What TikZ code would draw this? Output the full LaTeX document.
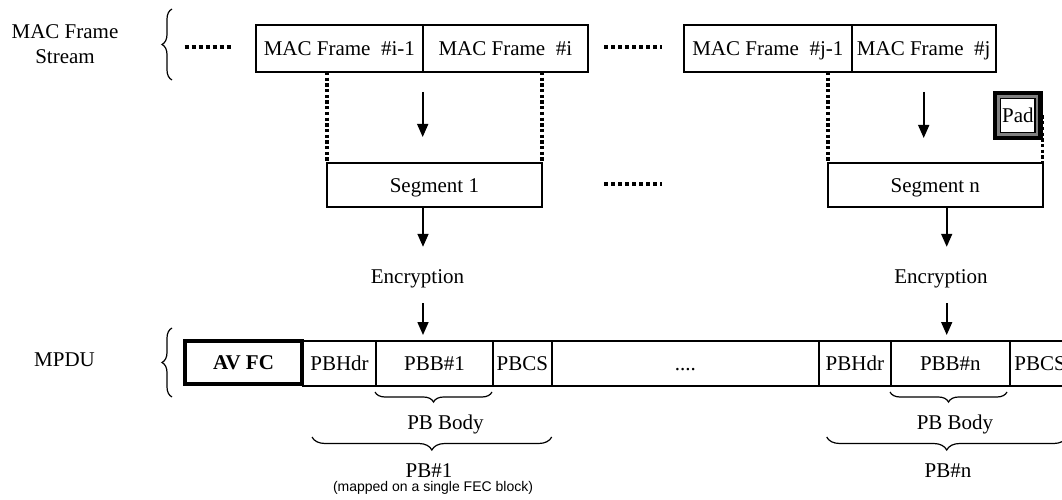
\documentclass[tikz,border=0pt]{standalone}
\usepackage{fontspec}
\setmainfont{Liberation Serif}
\newfontfamily\arialfont{Liberation Sans}
\usetikzlibrary{arrows.meta,decorations.pathreplacing,calc}
\tikzset{
  every node/.style={font=\fontsize{21}{25}\selectfont},
  boxbase/.style={draw, line width=2pt, inner sep=0pt, outer sep=0pt, text height=14pt, text depth=0pt},
  macbox/.style={boxbase, minimum height=47pt},
  segbox/.style={boxbase, minimum height=44pt},
  cell/.style={boxbase, minimum height=45.5pt},
  arr/.style={line width=1.6pt, -{Triangle[width=11pt,length=13pt]}},
  dotsh/.style={line width=3.4pt, dash pattern=on 4pt off 3pt},
  dotsv/.style={line width=3.4pt, dash pattern=on 3.3pt off 2.4pt},
  bracedeco/.style={decorate, line width=1.2pt, decoration={brace, amplitude=#1}},
  enctext/.style={inner sep=0pt, anchor=base, text height=36pt, text depth=20pt},
}
\begin{document}
\begin{tikzpicture}[x=1pt, y=-1pt]
\useasboundingbox (0,0) rectangle (1062,500);

% labels
\node[align=center] (mfs) at (65,44.5) {MAC Frame\\Stream};
\node[anchor=base] (mpdu) at (64.5,366.7) {MPDU};
\coordinate (b1a) at (172,80); \coordinate (b1b) at (172,9);
\draw[bracedeco=10pt] (b1a) -- (b1b);
\coordinate (b2a) at (172,397); \coordinate (b2b) at (172,328);
\draw[bracedeco=10pt] (b2a) -- (b2b);

% MAC frames
\node[macbox, minimum width=166.7pt] (mac1) at (339.35,48.5) {MAC Frame~ \#i-1};
\node[macbox, minimum width=165.3pt] (mac2) at (505.35,48.5) {MAC Frame~ \#i};
\node[macbox, minimum width=167.7pt] (mac3) at (767.85,48.5) {MAC Frame~ \#j-1};
\node[macbox, minimum width=144pt] (mac4) at (923.7,48.5) {MAC Frame~ \#j};
\draw[dotsh] (184.5,47) -- (232.5,47);
\draw[dotsh] (604,47) -- (662,47);

% segments
\node[segbox, minimum width=214.8pt] (seg1) at (434.4,185) {Segment 1};
\node[segbox, minimum width=214.7pt] (segn) at (935.35,185) {Segment n};
\draw[dotsh] (604,184) -- (662,184);

% pad
\node[boxbase, line width=1.7pt, minimum width=34.8pt, minimum height=34.1pt] (pad) at (1017.85,115.5) {Pad};
\draw[gray, line width=2.3pt] ($(pad.north west)+(-2,-2)$) rectangle ($(pad.south east)+(2,2)$);
\draw[line width=4.3pt] ($(pad.north west)+(-5.3,-5.3)$) rectangle ($(pad.south east)+(5.3,5.3)$);

% dotted guides
\draw[dotsv] (seg1.north west |- mac1.south) -- (seg1.north west);
\draw[dotsv] (seg1.north east |- mac2.south) -- (seg1.north east);
\draw[dotsv] (segn.north west |- mac3.south) -- (segn.north west);
\draw[dotsv] (segn.north east |- pad.east) -- (segn.north east);

% arrows to segments
\draw[arr, shorten <=20pt, shorten >=26pt] (mac1.south east) -- (seg1.north -| mac1.south east);
\draw[arr, shorten <=20pt, shorten >=25pt] (mac4.south) -- (segn.north -| mac4.south);

% encryption
\node[enctext] (enc1) at (417.5,283) {Encryption};
\node[enctext] (encn) at (941,283) {Encryption};
\coordinate (cx1) at (423,0);
\coordinate (cx2) at (946.7,0);

% MPDU row
\node[cell, minimum width=73pt] (pbh1) at (339.5,363.25) {PBHdr};
\node[cell, minimum width=117pt] (pbb1) at (434.5,363.25) {PBB\#1};
\node[cell, minimum width=58.7pt] (pbcs1) at (522.35,363.25) {PBCS};
\node[cell, minimum width=267.3pt] (mid) at (685.35,363.25) {....};
\node[cell, minimum width=71.7pt] (pbhn) at (854.85,363.25) {PBHdr};
\node[cell, minimum width=119.3pt] (pbbn) at (950.35,363.25) {PBB\#n};
\node[cell, minimum width=60pt] (pbcsn) at (1040,363.25) {PBCS};
\node[boxbase, line width=4pt, minimum width=116.4pt, minimum height=43pt] (avfc) at (243.5,362.9) {\textbf{AV FC}};

\draw[arr] (seg1.south -| cx1) -- (enc1.north -| cx1);
\draw[arr, shorten >=5.5pt] (enc1.south -| cx1) -- (pbb1.north -| cx1);
\draw[arr] (segn.south -| cx2) -- (encn.north -| cx2);
\draw[arr, shorten >=5.5pt] (encn.south -| cx2) -- (pbbn.north -| cx2);

% braces below
\draw[bracedeco=10pt] ($(pbb1.south east)+(-1,6)$) -- ($(pbb1.south west)+(-1,6)$);
\draw[bracedeco=13pt] ($(pbcs1.south east)+(0,51)$) -- ($(pbh1.south west)+(9,51)$);
\draw[bracedeco=10pt] ($(pbbn.south east)+(-3,6)$) -- ($(pbbn.south west)+(-0.7,6)$);
\draw[bracedeco=13pt] ($(pbcsn.south east)+(-3.3,51)$) -- ($(pbhn.south west)+(7.7,51)$);

\node[anchor=base] (pbody1) at (445.5,429) {PB Body};
\node[anchor=base] (pbodyn) at (955,429) {PB Body};
\node[anchor=base] (pb1) at (429,477) {PB\#1};
\node[anchor=base] (pbn) at (948,477) {PB\#n};
\node[font=\arialfont\fontsize{14}{16}\selectfont] (fec) at (433,488) {(mapped on a single FEC block)};
\end{tikzpicture}
\end{document}
